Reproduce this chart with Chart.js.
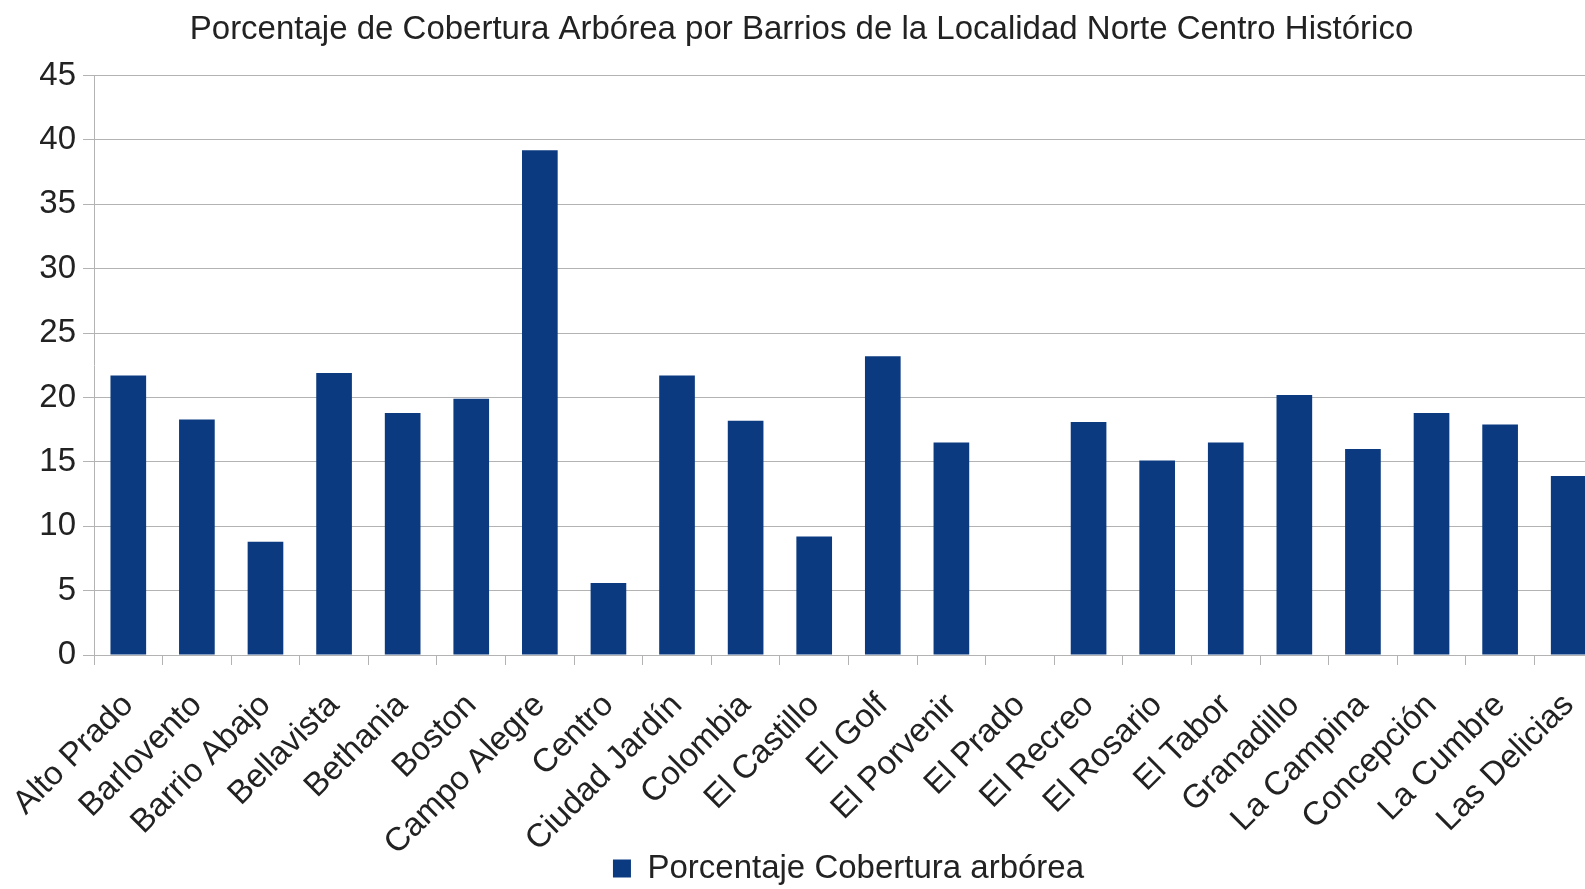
<!DOCTYPE html>
<html>
<head>
<meta charset="utf-8">
<script src="https://cdn.jsdelivr.net/npm/chart.js@4"></script>
<style>
  html, body { margin: 0; padding: 0; background: #fff; overflow: hidden; }
  /* el original queda cortado por la derecha: el lienzo es algo mas ancho que la ventana */
  #wrap { width: 1603px; height: 889px; position: relative; }
  canvas { display: block; }
</style>
</head>
<body>
<div id="wrap"><canvas id="barChart"></canvas></div>
<script>
// barrios y porcentaje de cobertura
const barrios = ["Alto Prado", "Barlovento", "Barrio Abajo", "Bellavista", "Bethania", "Boston",
    "Campo Alegre", "Centro", "Ciudad Jardín", "Colombia", "El Castillo", "El Golf", "El Porvenir",
    "El Prado", "El Recreo", "El Rosario", "El Tabor", "Granadillo", "La Campina", "Concepción",
    "La Cumbre", "Las Delicias"];
const cobertura = [21.7, 18.3, 8.8, 21.9, 18.8, 19.9, 39.2, 5.6, 21.7, 18.2, 9.2, 23.2, 16.5,
    0, 18.1, 15.1, 16.5, 20.2, 16.0, 18.8, 17.9, 13.9];
const yTicks = [0, 5, 10, 15, 20, 25, 30, 35, 40, 45];

const titulo = "Porcentaje de Cobertura Arbórea por Barrios de la Localidad Norte Centro Histórico";
const serie = "Porcentaje Cobertura arbórea";

const azul = '#0b3a80';
const gris = '#b3b3b3';
const texto = '#222222';
const fuente = "'Liberation Sans', Arial, sans-serif";

document.addEventListener("DOMContentLoaded", function() {
    const ctx = document.getElementById('barChart').getContext('2d');
    new Chart(ctx, {
        type: 'bar',
        data: {
            labels: barrios,
            datasets: [{
                label: serie,
                data: cobertura,
                backgroundColor: azul,
                borderWidth: 0,
                barPercentage: 0.52,
                categoryPercentage: 1.0
            }]
        },
        options: {
            responsive: true,
            maintainAspectRatio: false,
            animation: false,
            layout: { padding: { left: 0, right: 0, top: 0, bottom: -6 } },
            scales: {
                x: {
                    offset: true,
                    afterFit: function(axis) {
                        // las etiquetas giradas llegan casi a la leyenda
                        axis.height = 194;
                        axis.paddingLeft = 0;
                        axis.paddingRight = 0;
                        axis._computeLabelArea = function() { return undefined; };
                    },
                    grid: {
                        offset: true,
                        drawOnChartArea: false,
                        drawTicks: true,
                        tickLength: 10,
                        color: gris
                    },
                    border: { color: gris },
                    ticks: {
                        autoSkip: false,
                        maxRotation: 45,
                        minRotation: 45,
                        padding: 21,
                        color: texto,
                        font: { family: fuente, size: 33 }
                    }
                },
                y: {
                    min: 0,
                    max: 45,
                    afterBuildTicks: function(axis) {
                        axis.ticks = yTicks.map(v => ({ value: v }));
                    },
                    afterFit: function(axis) {
                        axis.width = 94;
                    },
                    grid: {
                        color: gris,
                        tickLength: 11
                    },
                    border: { color: gris },
                    ticks: {
                        padding: 7,
                        color: texto,
                        font: { family: fuente, size: 33 }
                    }
                }
            },
            plugins: {
                title: {
                    display: true,
                    text: titulo,
                    color: texto,
                    font: { family: fuente, size: 33, weight: 'normal' },
                    padding: { top: 10, bottom: 26 }
                },
                legend: {
                    position: 'bottom',
                    fullSize: false,
                    labels: {
                        boxWidth: 18,
                        boxHeight: 18,
                        color: texto,
                        padding: 3,
                        font: { family: fuente, size: 33 }
                    }
                },
                tooltip: { enabled: false }
            }
        }
    });
});
</script>
</body>
</html>
